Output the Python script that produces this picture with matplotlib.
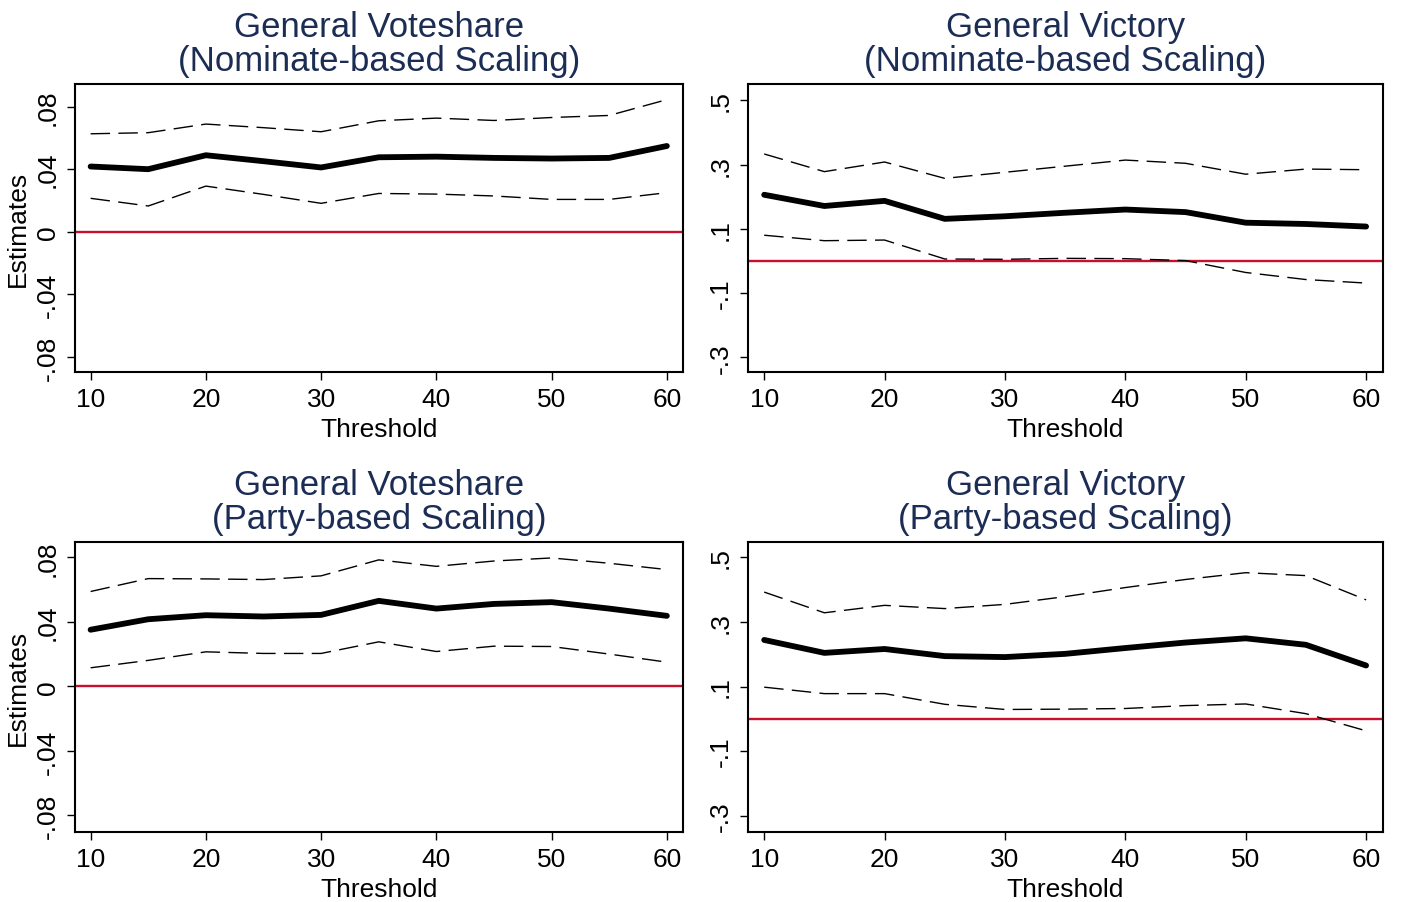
import numpy as np
import matplotlib
matplotlib.use("Agg")
from matplotlib import pyplot as plt

# thresholds on the x axis
threshold = [10, 15, 20, 25, 30, 35, 40, 45, 50, 55, 60]

# General Voteshare, Nominate-based scaling
vs_nom_est = [0.0417, 0.0400, 0.0489, 0.0451, 0.0411, 0.0476, 0.0480, 0.0472, 0.0468, 0.0472, 0.0548]
vs_nom_hi = [0.0626, 0.0633, 0.0688, 0.0665, 0.0639, 0.0709, 0.0726, 0.0711, 0.0730, 0.0743, 0.0844]
vs_nom_lo = [0.0214, 0.0165, 0.0292, 0.0239, 0.0182, 0.0245, 0.0241, 0.0229, 0.0207, 0.0207, 0.0250]

# General Victory, Nominate-based scaling
vic_nom_est = [0.206, 0.171, 0.187, 0.131, 0.139, 0.150, 0.160, 0.152, 0.119, 0.115, 0.107]
vic_nom_hi = [0.333, 0.278, 0.308, 0.257, 0.276, 0.295, 0.314, 0.304, 0.270, 0.286, 0.284]
vic_nom_lo = [0.080, 0.063, 0.065, 0.006, 0.005, 0.008, 0.007, 0.001, -0.036, -0.058, -0.069]

# General Voteshare, Party-based scaling
vs_pty_est = [0.0351, 0.0416, 0.0441, 0.0433, 0.0443, 0.0530, 0.0482, 0.0511, 0.0522, 0.0482, 0.0437]
vs_pty_hi = [0.0588, 0.0668, 0.0666, 0.0662, 0.0685, 0.0784, 0.0744, 0.0777, 0.0796, 0.0763, 0.0724]
vs_pty_lo = [0.0115, 0.0161, 0.0214, 0.0204, 0.0204, 0.0276, 0.0216, 0.0249, 0.0247, 0.0200, 0.0150]

# General Victory, Party-based scaling
vic_pty_est = [0.244, 0.204, 0.216, 0.194, 0.191, 0.201, 0.219, 0.236, 0.249, 0.229, 0.165]
vic_pty_hi = [0.392, 0.328, 0.351, 0.341, 0.354, 0.378, 0.406, 0.431, 0.452, 0.443, 0.368]
vic_pty_lo = [0.098, 0.078, 0.078, 0.045, 0.029, 0.030, 0.032, 0.041, 0.046, 0.016, -0.037]

vs_ticks = [-0.08, -0.04, 0, 0.04, 0.08]
vs_ticklabels = ["-.08", "-.04", "0", ".04", ".08"]
vic_ticks = [-0.3, -0.1, 0.1, 0.3, 0.5]
vic_ticklabels = ["-.3", "-.1", ".1", ".3", ".5"]
x_ticks = [10, 20, 30, 40, 50, 60]

titles = ["General Voteshare\n(Nominate-based Scaling)",
          "General Victory\n(Nominate-based Scaling)",
          "General Voteshare\n(Party-based Scaling)",
          "General Victory\n(Party-based Scaling)"]

plt.rcParams['font.family'] = ['Liberation Sans', 'DejaVu Sans']

title_color = '#1c2d55'
zero_color = '#c8102e'

fig = plt.figure(figsize=(14.03, 9.03), dpi=100)
# axes rectangles [left, bottom, width, height]
rects = [[0.0535, 0.5869, 0.4333, 0.3190],
         [0.5331, 0.5869, 0.4526, 0.3190],
         [0.0535, 0.0775, 0.4333, 0.3212],
         [0.5331, 0.0775, 0.4526, 0.3212]]
ylims = [(-0.0895, 0.0944), (-0.346, 0.551), (-0.0903, 0.0895), (-0.350, 0.547)]

panels = [(vs_nom_est, vs_nom_hi, vs_nom_lo, 'vs'),
          (vic_nom_est, vic_nom_hi, vic_nom_lo, 'vic'),
          (vs_pty_est, vs_pty_hi, vs_pty_lo, 'vs'),
          (vic_pty_est, vic_pty_hi, vic_pty_lo, 'vic')]

for i, (est, hi, lo, kind) in enumerate(panels):
    ax = fig.add_axes(rects[i])
    ax.axhline(0, color=zero_color, lw=1.7, zorder=1)
    ax.plot(threshold, hi, color='black', lw=1.0, dashes=(14, 6), zorder=2)
    ax.plot(threshold, lo, color='black', lw=1.0, dashes=(14, 6), zorder=2)
    ax.plot(threshold, est, color='black', lw=4.2, solid_capstyle='round',
            solid_joinstyle='round', zorder=3)
    ax.set_xlim(8.65, 61.4)
    ax.set_ylim(*ylims[i])
    if kind == 'vs':
        ax.set_yticks(vs_ticks)
        ax.set_yticklabels(vs_ticklabels, rotation=90, va='center', fontsize=19)
    else:
        ax.set_yticks(vic_ticks)
        ax.set_yticklabels(vic_ticklabels, rotation=90, va='center', fontsize=19)
    ax.set_xticks(x_ticks)
    ax.set_xticklabels([str(t) for t in x_ticks], fontsize=19)
    ax.tick_params(direction='out', length=6, width=1.0, pad=5, colors='black')
    for sp in ax.spines.values():
        sp.set_linewidth(1.5)
    ax.set_xlabel("Threshold", fontsize=19, labelpad=4)
    if i % 2 == 0:
        ax.set_ylabel("Estimates", fontsize=19, labelpad=4)
    ax.set_title(titles[i], fontsize=25, color=title_color, pad=10,
                 linespacing=1.06)

fig.savefig("out.png", dpi=100, facecolor='white')
